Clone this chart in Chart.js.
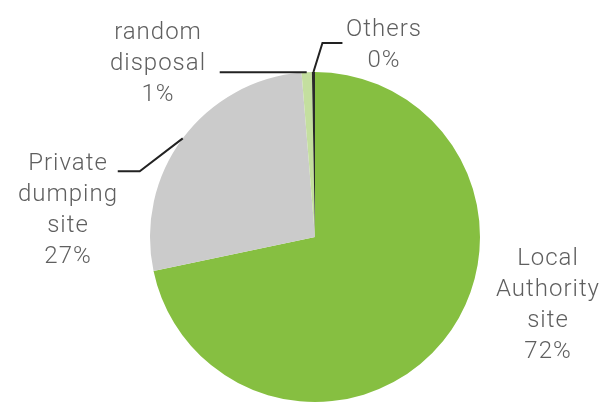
<!DOCTYPE html>
<html lang="en">
  <head>
    <meta charset="UTF-8" />
    <title>Waste disposal sites</title>
    <style>
      body { margin: 0; background: #fff; }
      #wrap { width: 611px; height: 405px; }
    </style>
  </head>
  <body>
    <div id="wrap">
      <canvas id="myChart" width="611" height="405"></canvas>
    </div>
    <script src="https://cdn.jsdelivr.net/npm/chart.js"></script>
    <script>
      const labels = ["Local Authority site", "Private dumping site", "random disposal", "Others"];
      const values = [71.7, 27.0, 1.0, 0.3];
      const colors = ["#86bf41", "#cbcbcb", "#c4df9f", "#2a2a2a"];

      // text lines drawn next to each slice
      const labelLines = [
        ["Local", "Authority", "site"],
        ["Private", "dumping", "site"],
        ["random", "disposal"],
        ["Others"],
      ];

      const total = values.reduce((a, b) => a + b, 0);
      const pct = values.map((v) => Math.round((v / total) * 100) + "%");

      // where the text sits and how the leader line bends
      const callouts = [
        { x: 548, y: 259, leader: null },
        { x: 68, y: 164, leader: { elbow: [-43, 33], end: -22 } },
        { x: 158, y: 33, leader: { elbow: [0, 0], end: -87 } },
        { x: 384, y: 30, leader: { elbow: [9, -29], end: 20 } },
      ];

      const calloutPlugin = {
        id: "callouts",
        afterDatasetsDraw(chart) {
          const ctx = chart.ctx;
          const arcs = chart.getDatasetMeta(0).data;
          ctx.save();
          arcs.forEach((arc, i) => {
            const c = callouts[i];
            const lead = c.leader;
            if (lead) {
              const mid = (arc.startAngle + arc.endAngle) / 2;
              const ax = arc.x + Math.cos(mid) * arc.outerRadius;
              const ay = arc.y + Math.sin(mid) * arc.outerRadius;
              const ex = ax + lead.elbow[0];
              const ey = ay + lead.elbow[1];
              ctx.beginPath();
              ctx.moveTo(ax, ay);
              ctx.lineTo(ex, ey);
              ctx.lineTo(ex + lead.end, ey);
              ctx.strokeStyle = "#222";
              ctx.lineWidth = 2;
              ctx.stroke();
            }
            const lines = labelLines[i].concat([pct[i]]);
            ctx.font = "300 24px Roboto";
            ctx.letterSpacing = "1px";
            ctx.fillStyle = "#5f5f5f";
            ctx.textAlign = "center";
            ctx.textBaseline = "middle";
            lines.forEach((t, k) => ctx.fillText(t, c.x, c.y + k * 31));
          });
          ctx.restore();
        },
      };

      const data = {
        labels: labels,
        datasets: [
          {
            data: values,
            backgroundColor: colors,
            borderWidth: 0,
          },
        ],
      };

      const config = {
        type: "pie",
        data: data,
        options: {
          responsive: false,
          animation: false,
          layout: {
            padding: { left: 150, right: 131, top: 72, bottom: 3 },
          },
          plugins: {
            legend: { display: false },
            tooltip: { enabled: false },
          },
        },
        plugins: [calloutPlugin],
      };

      const myChart = new Chart(document.getElementById("myChart"), config);
    </script>
  </body>
</html>
